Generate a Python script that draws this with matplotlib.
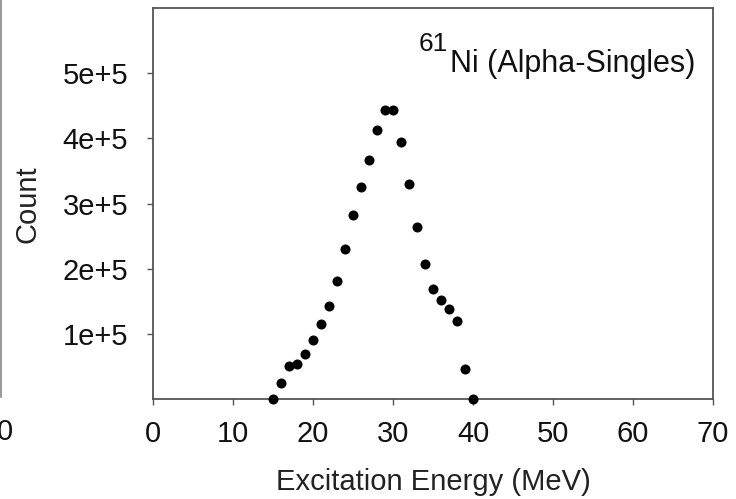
import numpy as np
import matplotlib.pyplot as plt
from matplotlib.lines import Line2D

plt.rcParams['font.family'] = ['Liberation Sans', 'DejaVu Sans']

# excitation energy (MeV) and counts
energy = [15, 16, 17, 18, 19, 20, 21, 22, 23, 24, 25, 26, 27,
          28, 29, 30, 31, 32, 33, 34, 35, 36, 37, 38, 39, 40]
counts = [0.0, 0.25e5, 0.52e5, 0.55e5, 0.70e5, 0.91e5, 1.16e5, 1.43e5, 1.81e5,
          2.30e5, 2.83e5, 3.25e5, 3.67e5, 4.13e5, 4.43e5, 4.43e5, 3.94e5,
          3.30e5, 2.65e5, 2.07e5, 1.69e5, 1.52e5, 1.39e5, 1.20e5, 0.46e5, 0.0]

x_ticks = [0, 10, 20, 30, 40, 50, 60, 70]
y_ticks = [1e5, 2e5, 3e5, 4e5, 5e5]
y_tick_labels = ["1e+5", "2e+5", "3e+5", "4e+5", "5e+5"]

spine_col = "#555555"
fs = 21

fig = plt.figure(figsize=(7.36, 4.99), dpi=100)
ax = fig.add_axes([0.2079, 0.1994, 0.7609, 0.7846])

ax.plot(energy, counts, "o", color="black", markersize=6.2, clip_on=False, zorder=3)

ax.set_xlim(0, 70)
ax.set_ylim(0, 6e5)
ax.set_xticks(x_ticks)
ax.set_yticks(y_ticks)
ax.set_yticklabels(y_tick_labels)

for s in ax.spines.values():
    s.set_color(spine_col)
    s.set_linewidth(1.3)

ax.tick_params(axis="both", direction="out", length=4.5, width=1.0,
               color=spine_col, labelsize=fs, labelcolor="#111111")
ax.tick_params(axis="x", pad=10)
ax.tick_params(axis="y", pad=13.5)

ax.set_xlabel("Excitation Energy (MeV)", fontsize=fs, color="#222222", labelpad=15)
ax.set_ylabel("Count", fontsize=fs, color="#222222", labelpad=15)

# label with the mass number drawn as a raised, nearly full size prefix
main = ax.text(0.968, 0.8365, "Ni (Alpha-Singles)", transform=ax.transAxes,
               ha="right", va="baseline", fontsize=22, color="#111111")
ax.annotate("61", xy=(0, 1), xycoords=main, xytext=(-1, 12.5),
            textcoords="offset points", ha="right", va="top",
            fontsize=19, color="#111111")

# pieces of the neighbouring panel cut off at the left edge
fig.add_artist(Line2D([0.002, 0.002], [1.0, 1 - 397 / 499], transform=fig.transFigure,
                      color="#888888", linewidth=1.2))
fig.text(5 / 736, 1 - 432 / 499, "0", ha="center", va="center", fontsize=fs, color="#111111")

fig.savefig("out.png", dpi=100)
